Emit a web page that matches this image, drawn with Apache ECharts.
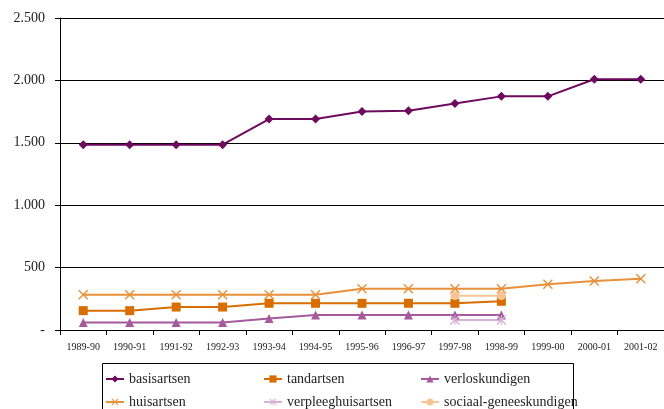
<!DOCTYPE html>
<html>
<head>
<meta charset="utf-8">
<script src="https://cdn.jsdelivr.net/npm/echarts@6/dist/echarts.min.js"></script>
<style>
  html, body { margin: 0; padding: 0; background: #fff; }
  #chart { width: 664px; height: 409px; }
</style>
</head>
<body>
<div id="chart"></div>
<script>
var categories = ['1989-90', '1990-91', '1991-92', '1992-93', '1993-94', '1994-95', '1995-96',
  '1996-97', '1997-98', '1998-99', '1999-00', '2000-01', '2001-02'];
var basisartsen = [1485, 1485, 1485, 1485, 1690, 1690, 1750, 1757, 1814, 1872, 1872, 2009, 2009];
var tandartsen = [155, 155, 184, 184, 214, 214, 214, 214, 214, 230, '-', '-', '-'];
var verloskundigen = [61, 61, 61, 61, 93, 120, 120, 120, 120, 120, '-', '-', '-'];
var huisartsen = [283, 283, 283, 283, 283, 283, 331, 331, 331, 331, 366, 393, 411];
var verpleeghuisartsen = ['-', '-', '-', '-', '-', '-', '-', '-', 80, 80, '-', '-', '-'];
var sociaalGeneeskundigen = ['-', '-', '-', '-', '-', '-', '-', '-', 275, 275, '-', '-', '-'];
var yTickLabels = { 0: '-', 500: '500', 1000: '1.000', 1500: '1.500', 2000: '2.000', 2500: '2.500' };

var serif = '"Liberation Serif", "DejaVu Serif", serif';
var crossPath = 'path://M0,1L1,0L5,4L9,0L10,1L6,5L10,9L9,10L5,6L1,10L0,9L4,5Z';
var starPath = 'path://M0,1L1,0L5,4L9,0L10,1L6,5L10,9L9,10L5,6L1,10L0,9L4,5Z M4.5,0L5.5,0L5.5,10L4.5,10Z';

function mkSeries(name, data, color, symbol, size) {
  return {
    name: name,
    type: 'line',
    data: data,
    symbol: symbol,
    symbolSize: size,
    showAllSymbol: true,
    connectNulls: false,
    lineStyle: { color: color, width: 2 },
    itemStyle: { color: color },
    emphasis: { disabled: true }
  };
}

var legendBase = {
  orient: 'vertical',
  top: 372,
  height: 80,
  padding: 0,
  itemWidth: 18,
  itemHeight: 9,
  itemGap: 9,
  textStyle: { fontFamily: serif, fontSize: 14, color: '#222' }
};

var myChart = echarts.init(document.getElementById('chart'));
var option = {
  backgroundColor: '#fff',
  animation: false,
  grid: { left: 60, top: 18, right: -2, bottom: 79 },
  legend: [
    Object.assign({}, legendBase, { left: 105, data: ['basisartsen', 'huisartsen'] }),
    Object.assign({}, legendBase, { left: 263, data: ['tandartsen', 'verpleeghuisartsen'] }),
    Object.assign({}, legendBase, { left: 420, data: ['verloskundigen', 'sociaal-geneeskundigen'] })
  ],
  graphic: [{
    type: 'rect',
    shape: { x: 102.5, y: 363.5, width: 471, height: 50 },
    style: { fill: 'none', stroke: '#000', lineWidth: 1 }
  }],
  xAxis: {
    type: 'category',
    data: categories,
    boundaryGap: true,
    axisLine: { lineStyle: { color: '#000', width: 1 } },
    axisTick: { show: true, length: 5, lineStyle: { color: '#000' } },
    axisLabel: { fontFamily: serif, fontSize: 10, color: '#222', margin: 12, interval: 0 }
  },
  yAxis: {
    type: 'value',
    min: 0,
    max: 2500,
    interval: 500,
    axisLine: { show: true, lineStyle: { color: '#000', width: 1 } },
    axisTick: { show: true, length: 5, lineStyle: { color: '#000' } },
    splitLine: { show: true, lineStyle: { color: '#000', width: 1 } },
    axisLabel: {
      fontFamily: serif, fontSize: 14, color: '#222', margin: 15,
      formatter: function (v) { return yTickLabels[v]; }
    }
  },
  series: [
    mkSeries('basisartsen', basisartsen, '#6E0B5E', 'diamond', 9),
    mkSeries('tandartsen', tandartsen, '#D86E00', 'rect', 9),
    mkSeries('verloskundigen', verloskundigen, '#A45A9C', 'triangle', 9),
    mkSeries('huisartsen', huisartsen, '#E8903A', crossPath, 10),
    mkSeries('verpleeghuisartsen', verpleeghuisartsen, '#D8B2D6', starPath, 10),
    mkSeries('sociaal-geneeskundigen', sociaalGeneeskundigen, '#F6C596', 'circle', 9)
  ]
};
myChart.setOption(option);
</script>
</body>
</html>
